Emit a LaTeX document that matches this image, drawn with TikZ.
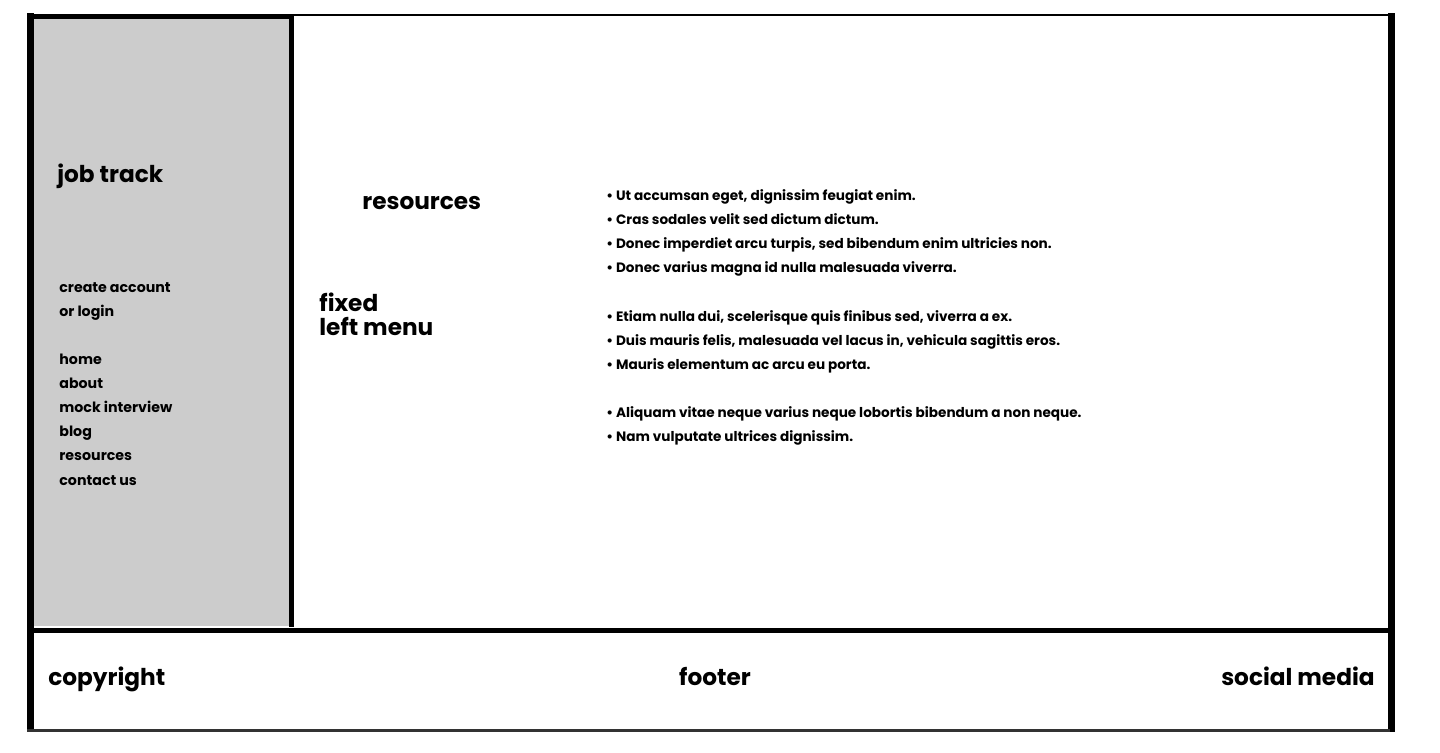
\documentclass[tikz,border=0pt]{standalone}
\usepackage{fontspec}
\setmainfont{Poppins}
\usepackage{tikz}

\begin{document}
\begin{tikzpicture}[x=0.5pt,y=-0.5pt,
  headtext/.style={anchor=base west, inner sep=0pt, font=\fontsize{11.6}{14}\selectfont\bfseries},
  menutext/.style={anchor=base west, inner sep=0pt, font=\fontsize{7.1}{9}\selectfont\bfseries},
  itemtext/.style={anchor=base west, inner sep=0pt, font=\fontsize{6.8}{9}\selectfont\bfseries}]

\useasboundingbox (0,0) rectangle (1440,752);

% sidebar
\fill[black!20] (33,17) rectangle (290,626);

% frame
\draw[line width=1.25pt] (27,15) -- (1392,15);
\draw[line width=2.5pt] (27,16) -- (292,16);
\draw[line width=3.25pt] (30.5,13) -- (30.5,732);
\draw[line width=3.25pt] (1391.5,13) -- (1391.5,732);
\draw[line width=2.5pt] (291.5,14) -- (291.5,627);
\draw[line width=2.5pt] (27,630.5) -- (1392,630.5);
\draw[line width=1.25pt, black!80] (27,730.5) -- (1390,730.5);

% left menu
\node[headtext] (title) at (57,182) {job track};
\node[menutext] (account) at (59,292) {create account};
\node[menutext] (login) at (59,316) {or login};
\node[menutext] (home) at (59,364) {home};
\node[menutext] (about) at (59,388) {about};
\node[menutext] (mock) at (59,412) {mock interview};
\node[menutext] (blog) at (59,436) {blog};
\node[menutext] (res) at (59,460) {resources};
\node[menutext] (contact) at (59,485) {contact us};

% page content
\node[headtext] (page) at (362,209) {resources};
\node[headtext] (fixed) at (319,311) {fixed};
\node[headtext] (menu) at (319,335) {left menu};

\node[itemtext] (i1) at (606,200) {\textbullet\ Ut accumsan eget, dignissim feugiat enim.};
\node[itemtext] (i2) at (606,224) {\textbullet\ Cras sodales velit sed dictum dictum.};
\node[itemtext] (i3) at (606,248) {\textbullet\ Donec imperdiet arcu turpis, sed bibendum enim ultricies non.};
\node[itemtext] (i4) at (606,272) {\textbullet\ Donec varius magna id nulla malesuada viverra.};
\node[itemtext] (i5) at (606,321) {\textbullet\ Etiam nulla dui, scelerisque quis finibus sed, viverra a ex.};
\node[itemtext] (i6) at (606,345) {\textbullet\ Duis mauris felis, malesuada vel lacus in, vehicula sagittis eros.};
\node[itemtext] (i7) at (606,369) {\textbullet\ Mauris elementum ac arcu eu porta.};
\node[itemtext] (i8) at (606,417) {\textbullet\ Aliquam vitae neque varius neque lobortis bibendum a non neque.};
\node[itemtext] (i9) at (606,441) {\textbullet\ Nam vulputate ultrices dignissim.};

% footer
\node[headtext] (copy) at (48,685) {copyright};
\node[headtext, anchor=base] (foot) at (715,685) {footer};
\node[headtext, anchor=base east] (social) at (1375,685) {social media};
\end{tikzpicture}
\end{document}
